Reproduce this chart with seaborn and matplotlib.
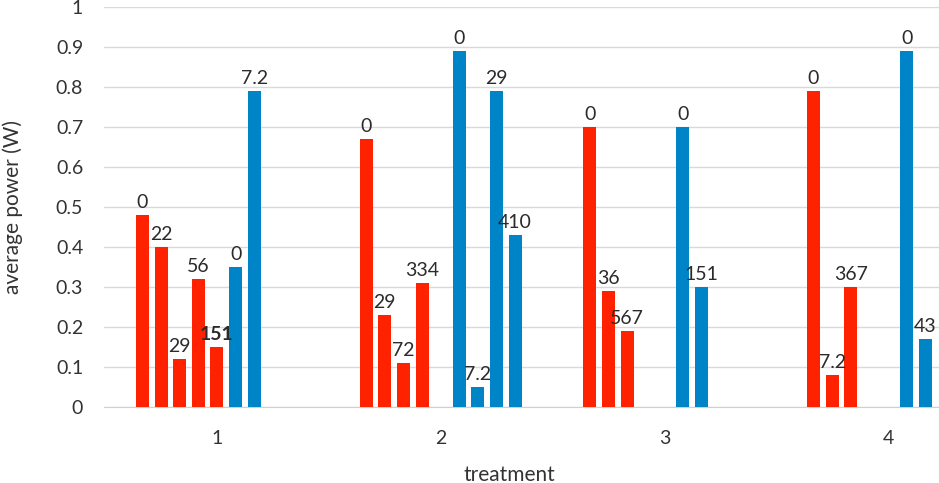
import numpy as np
import pandas as pd
import seaborn as sns
import matplotlib.pyplot as plt

# data
treatments = ['1', '2', '3', '4']

red_power = [[0.48, 0.40, 0.12, 0.32, 0.15],
             [0.67, 0.23, 0.11, 0.31],
             [0.70, 0.29, 0.19],
             [0.79, 0.08, 0.30]]
red_labels = [['0', '22', '29', '56', '151'],
              ['0', '29', '72', '334'],
              ['0', '36', '567'],
              ['0', '7.2', '367']]

blue_power = [[0.35, 0.79],
              [0.89, 0.05, 0.79, 0.43],
              [0.70, 0.30],
              [0.89, 0.17]]
blue_labels = [['0', '7.2'],
               ['0', '7.2', '29', '410'],
               ['0', '151'],
               ['0', '43']]

RED = '#ff2200'
BLUE = '#0084c8'
n_slots = 9  # 5 red series + 4 blue series

rows = []
for i, t in enumerate(treatments):
    for j, (v, lab) in enumerate(zip(red_power[i], red_labels[i])):
        rows.append({'treatment': t, 'slot': j, 'power': v, 'label': lab})
    for j, (v, lab) in enumerate(zip(blue_power[i], blue_labels[i])):
        rows.append({'treatment': t, 'slot': 5 + j, 'power': v, 'label': lab})
df = pd.DataFrame(rows)

sns.set_style('white')
plt.rcParams['font.family'] = ['Lato', 'DejaVu Sans']

fig = plt.figure(figsize=(9.39, 4.83), dpi=100)
ax = fig.add_axes([104 / 939, 76.3 / 483, 835 / 939, 400 / 483])

palette = {s: (RED if s < 5 else BLUE) for s in range(n_slots)}
sns.barplot(data=df, x='treatment', y='power', hue='slot', order=treatments,
            hue_order=list(range(n_slots)), palette=palette, width=0.749,
            gap=0.3, dodge=True, errorbar=None, legend=False, saturation=1,
            linewidth=0, ax=ax, zorder=3)

# value labels on each bar
for s, cont in zip(range(n_slots), ax.containers):
    sub = df[df['slot'] == s].set_index('treatment').reindex(treatments).dropna()
    texts = ax.bar_label(cont, labels=sub['label'].tolist(), padding=2.5,
                         fontsize=14, color='#2b2b2b')
    for t, tr in zip(texts, sub.index):
        if tr == '1' and s == 4:
            t.set_fontweight('bold')

ax.set_ylim(0, 1)
ax.set_yticks(np.arange(0, 1.01, 0.1))
ax.set_yticklabels(['0', '0.1', '0.2', '0.3', '0.4', '0.5', '0.6', '0.7',
                    '0.8', '0.9', '1'])
ax.set_xlim(-0.505, 3.228)
ax.grid(axis='y', color='#d9d9d9', linewidth=1, zorder=0)
ax.set_axisbelow(True)
for side in ['top', 'right', 'left']:
    ax.spines[side].set_visible(False)
ax.spines['bottom'].set_color('#d0d0d0')
ax.tick_params(axis='x', length=0, labelsize=14, labelcolor='#333333', pad=17)
ax.tick_params(axis='y', length=0, labelsize=14, labelcolor='#333333', pad=15)

ax.set_xlabel('treatment', fontsize=15, color='#333333')
ax.set_ylabel('average power (W)', fontsize=15, color='#333333')
ax.xaxis.set_label_coords(0.486, -0.145)
ax.yaxis.set_label_coords(-0.097, 0.5)

fig.savefig('out.png', dpi=100)
